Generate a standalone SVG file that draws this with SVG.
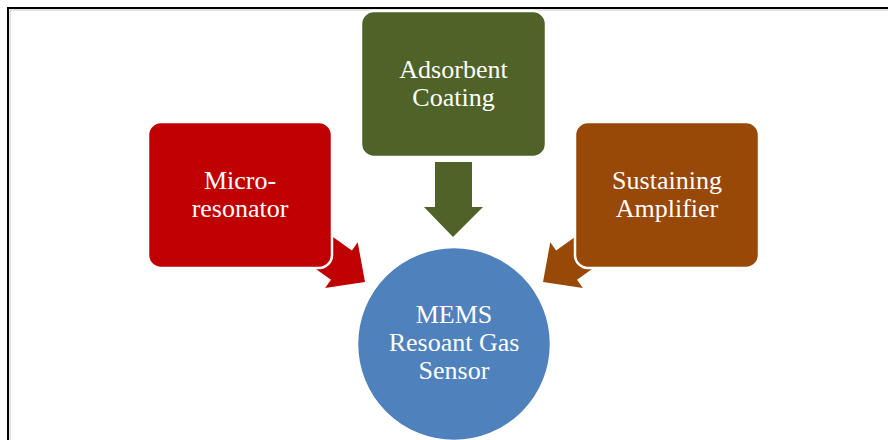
<svg xmlns="http://www.w3.org/2000/svg" width="888" height="440" viewBox="0 0 888 440">
  <style>
    .box { stroke: #ffffff; stroke-width: 2.5; }
    .lbl { font-family: "Liberation Serif", "Times New Roman", serif; font-size: 26px; fill: #ffffff; text-anchor: middle; }
  </style>
  <defs>
    <!-- block arrow pointing along +x with its tip at the origin -->
    <polygon id="blockArrow" points="0,0 -29,-28 -29,-18 -75,-18 -75,18 -29,18 -29,28"/>
  </defs>

  <rect width="888" height="440" fill="#ffffff"/>
  <!-- page frame -->
  <line x1="10" y1="10" x2="888" y2="10" stroke="#c8c8c8" stroke-width="1"/>
  <line x1="10" y1="10" x2="10" y2="440" stroke="#c8c8c8" stroke-width="1"/>
  <path d="M8,440 V8 H888" fill="none" stroke="#000000" stroke-width="2"/>

  <g id="connectors">
    <use href="#blockArrow" fill="#c00000" transform="translate(365,282) rotate(35.6)"/>
    <use href="#blockArrow" fill="#984807" transform="translate(543,282) scale(-1,1) rotate(35.6)"/>
    <polygon fill="#4f6228" points="435,162 472,162 472,207 483,207 453,237 424,207 435,207"/>
  </g>

  <g id="micro-resonator">
    <rect class="box" x="148" y="122" width="184" height="146" rx="13" fill="#c00000"/>
    <text class="lbl" x="240" y="189">Micro-</text>
    <text class="lbl" x="240" y="217">resonator</text>
  </g>

  <g id="adsorbent-coating">
    <rect class="box" x="361" y="11" width="185" height="146" rx="13" fill="#4f6228"/>
    <text class="lbl" x="453.5" y="78">Adsorbent</text>
    <text class="lbl" x="453.5" y="106">Coating</text>
  </g>

  <g id="sustaining-amplifier">
    <rect class="box" x="575" y="122" width="184" height="146" rx="13" fill="#984807"/>
    <text class="lbl" x="667" y="189">Sustaining</text>
    <text class="lbl" x="667" y="217">Amplifier</text>
  </g>

  <g id="mems-sensor">
    <circle class="box" cx="454" cy="344" r="97" fill="#4f81bd"/>
    <text class="lbl" x="454" y="323">MEMS</text>
    <text class="lbl" x="454" y="351">Resoant Gas</text>
    <text class="lbl" x="454" y="379">Sensor</text>
  </g>
</svg>
